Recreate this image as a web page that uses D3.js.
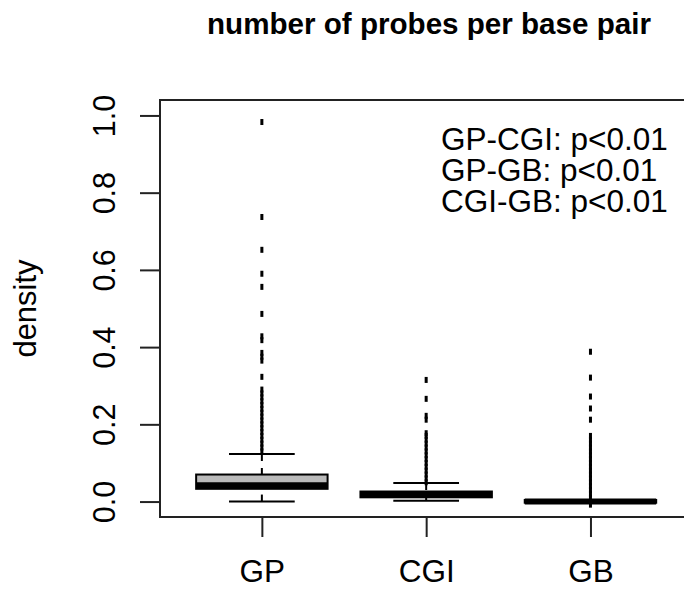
<!DOCTYPE html>
<html>
<head>
<meta charset="utf-8">
<script src="https://cdn.jsdelivr.net/npm/d3@7"></script>
<style>
  body { margin: 0; background: #fff; }
  text { font-family: "Liberation Sans", Arial, Helvetica, sans-serif; }
</style>
</head>
<body>
<div id="chart"></div>
<script>
// data
const groups = ["GP", "CGI", "GB"];
const q1 = [0.033, 0.011, -0.003];
const medians = [0.042, 0.018, 0.000];
const q3 = [0.070, 0.026, 0.004];
const whiskLo = [0.000, 0.002, -0.003];
const whiskHi = [0.123, 0.048, 0.004];
const outGP = [0.13, 0.14, 0.15, 0.16, 0.17, 0.18, 0.19, 0.20, 0.21, 0.22, 0.23, 0.24,
  0.25, 0.26, 0.27, 0.28, 0.29, 0.323, 0.365, 0.375, 0.385, 0.418, 0.428, 0.486,
  0.556, 0.590, 0.652, 0.737, 0.983];
const outCGI = [0.05, 0.06, 0.07, 0.08, 0.09, 0.10, 0.11, 0.12, 0.13, 0.14, 0.15,
  0.16, 0.17, 0.177, 0.212, 0.222, 0.266, 0.315];
const outGB = [-0.008, 0.01, 0.02, 0.03, 0.04, 0.05, 0.06, 0.07, 0.08, 0.09, 0.10,
  0.11, 0.12, 0.13, 0.14, 0.15, 0.16, 0.17, 0.212, 0.241, 0.272, 0.321, 0.388];
const outliers = [outGP, outCGI, outGB];
const yTicks = [0, 0.2, 0.4, 0.6, 0.8, 1.0];
const pvalLines = ["GP-CGI: p<0.01", "GP-GB: p<0.01", "CGI-GB: p<0.01"];
const title = "number of probes per base pair";
const yLabel = "density";

const W = 684, H = 589;
const svg = d3.select("#chart").append("svg")
  .attr("width", W).attr("height", H);

// plot region (runs off the right edge like the original)
const x = d3.scaleLinear().domain([0.38, 3.62]).range([160, 160 + 3.24 * 164.3]);
const y = d3.scaleLinear().domain([-0.04, 1.04]).range([517, 100]);
const boxHalf = (x(1.4) - x(1)) ;
const capHalf = (x(1.2) - x(1));

// frame
svg.append("rect")
  .attr("x", x(0.38)).attr("y", y(1.04))
  .attr("width", x(3.62) - x(0.38)).attr("height", y(-0.04) - y(1.04))
  .attr("fill", "none").attr("stroke", "#222").attr("stroke-width", 2);

// y axis
const yAxis = svg.append("g")
  .attr("transform", `translate(${x(0.38)},0)`)
  .call(d3.axisLeft(y).tickValues(yTicks).tickSize(20).tickSizeOuter(0)
    .tickFormat(d3.format(".1f")));
yAxis.select(".domain").remove();
yAxis.selectAll(".tick line").attr("stroke", "#222").attr("stroke-width", 2);
yAxis.selectAll(".tick text")
  .attr("x", null).attr("dy", null)
  .attr("transform", "translate(-45,0) rotate(-90)")
  .attr("text-anchor", "middle")
  .attr("font-size", 30.5).attr("fill", "#000");

// x axis
const xAxis = svg.append("g")
  .attr("transform", `translate(0,${y(-0.04)})`)
  .call(d3.axisBottom(x).tickValues([1, 2, 3]).tickSize(20).tickSizeOuter(0)
    .tickFormat(d => groups[d - 1]));
xAxis.select(".domain").remove();
xAxis.selectAll(".tick line").attr("stroke", "#222").attr("stroke-width", 2);
xAxis.selectAll(".tick text")
  .attr("y", 65).attr("dy", null)
  .attr("font-size", 31.5).attr("fill", "#000");

// boxes
const g = svg.append("g");
groups.forEach((name, i) => {
  const cx = x(i + 1);
  // dashed whiskers drawn from the whisker end towards the box
  g.append("line")
    .attr("x1", cx).attr("x2", cx)
    .attr("y1", y(whiskHi[i])).attr("y2", y(q3[i]))
    .attr("stroke", "#000").attr("stroke-width", 2)
    .attr("stroke-dasharray", "7,7");
  g.append("line")
    .attr("x1", cx).attr("x2", cx)
    .attr("y1", y(whiskLo[i])).attr("y2", y(q1[i]))
    .attr("stroke", "#000").attr("stroke-width", 2)
    .attr("stroke-dasharray", "7,7");
  // caps
  [whiskHi[i], whiskLo[i]].forEach(v => {
    g.append("line")
      .attr("x1", cx - capHalf).attr("x2", cx + capHalf)
      .attr("y1", y(v)).attr("y2", y(v))
      .attr("stroke", "#000").attr("stroke-width", 2);
  });
  // outliers as short vertical dashes
  g.selectAll(null).data(outliers[i]).join("rect")
    .attr("x", cx - 1.5).attr("width", 3)
    .attr("y", d => y(d) - 3).attr("height", 6)
    .attr("fill", "#000");
  // box
  g.append("rect")
    .attr("x", cx - boxHalf).attr("width", 2 * boxHalf)
    .attr("y", y(q3[i])).attr("height", Math.max(0.5, y(q1[i]) - y(q3[i])))
    .attr("fill", "#bababa").attr("stroke", "#000").attr("stroke-width", 2);
  // median
  g.append("line")
    .attr("x1", cx - boxHalf).attr("x2", cx + boxHalf)
    .attr("y1", y(medians[i])).attr("y2", y(medians[i]))
    .attr("stroke", "#000").attr("stroke-width", 6);
});

// p-value notes
svg.append("g").selectAll("text").data(pvalLines).join("text")
  .attr("x", 441).attr("y", (d, i) => 150 + i * 31)
  .attr("font-size", 31.5).attr("fill", "#000")
  .text(d => d);

// title
svg.append("text")
  .attr("x", 429).attr("y", 34)
  .attr("text-anchor", "middle")
  .attr("font-size", 29.6).attr("font-weight", "bold")
  .text(title);

// y label
svg.append("text")
  .attr("transform", `translate(36,${(y(-0.04) + y(1.04)) / 2}) rotate(-90)`)
  .attr("text-anchor", "middle")
  .attr("font-size", 31)
  .text(yLabel);
</script>
</body>
</html>
